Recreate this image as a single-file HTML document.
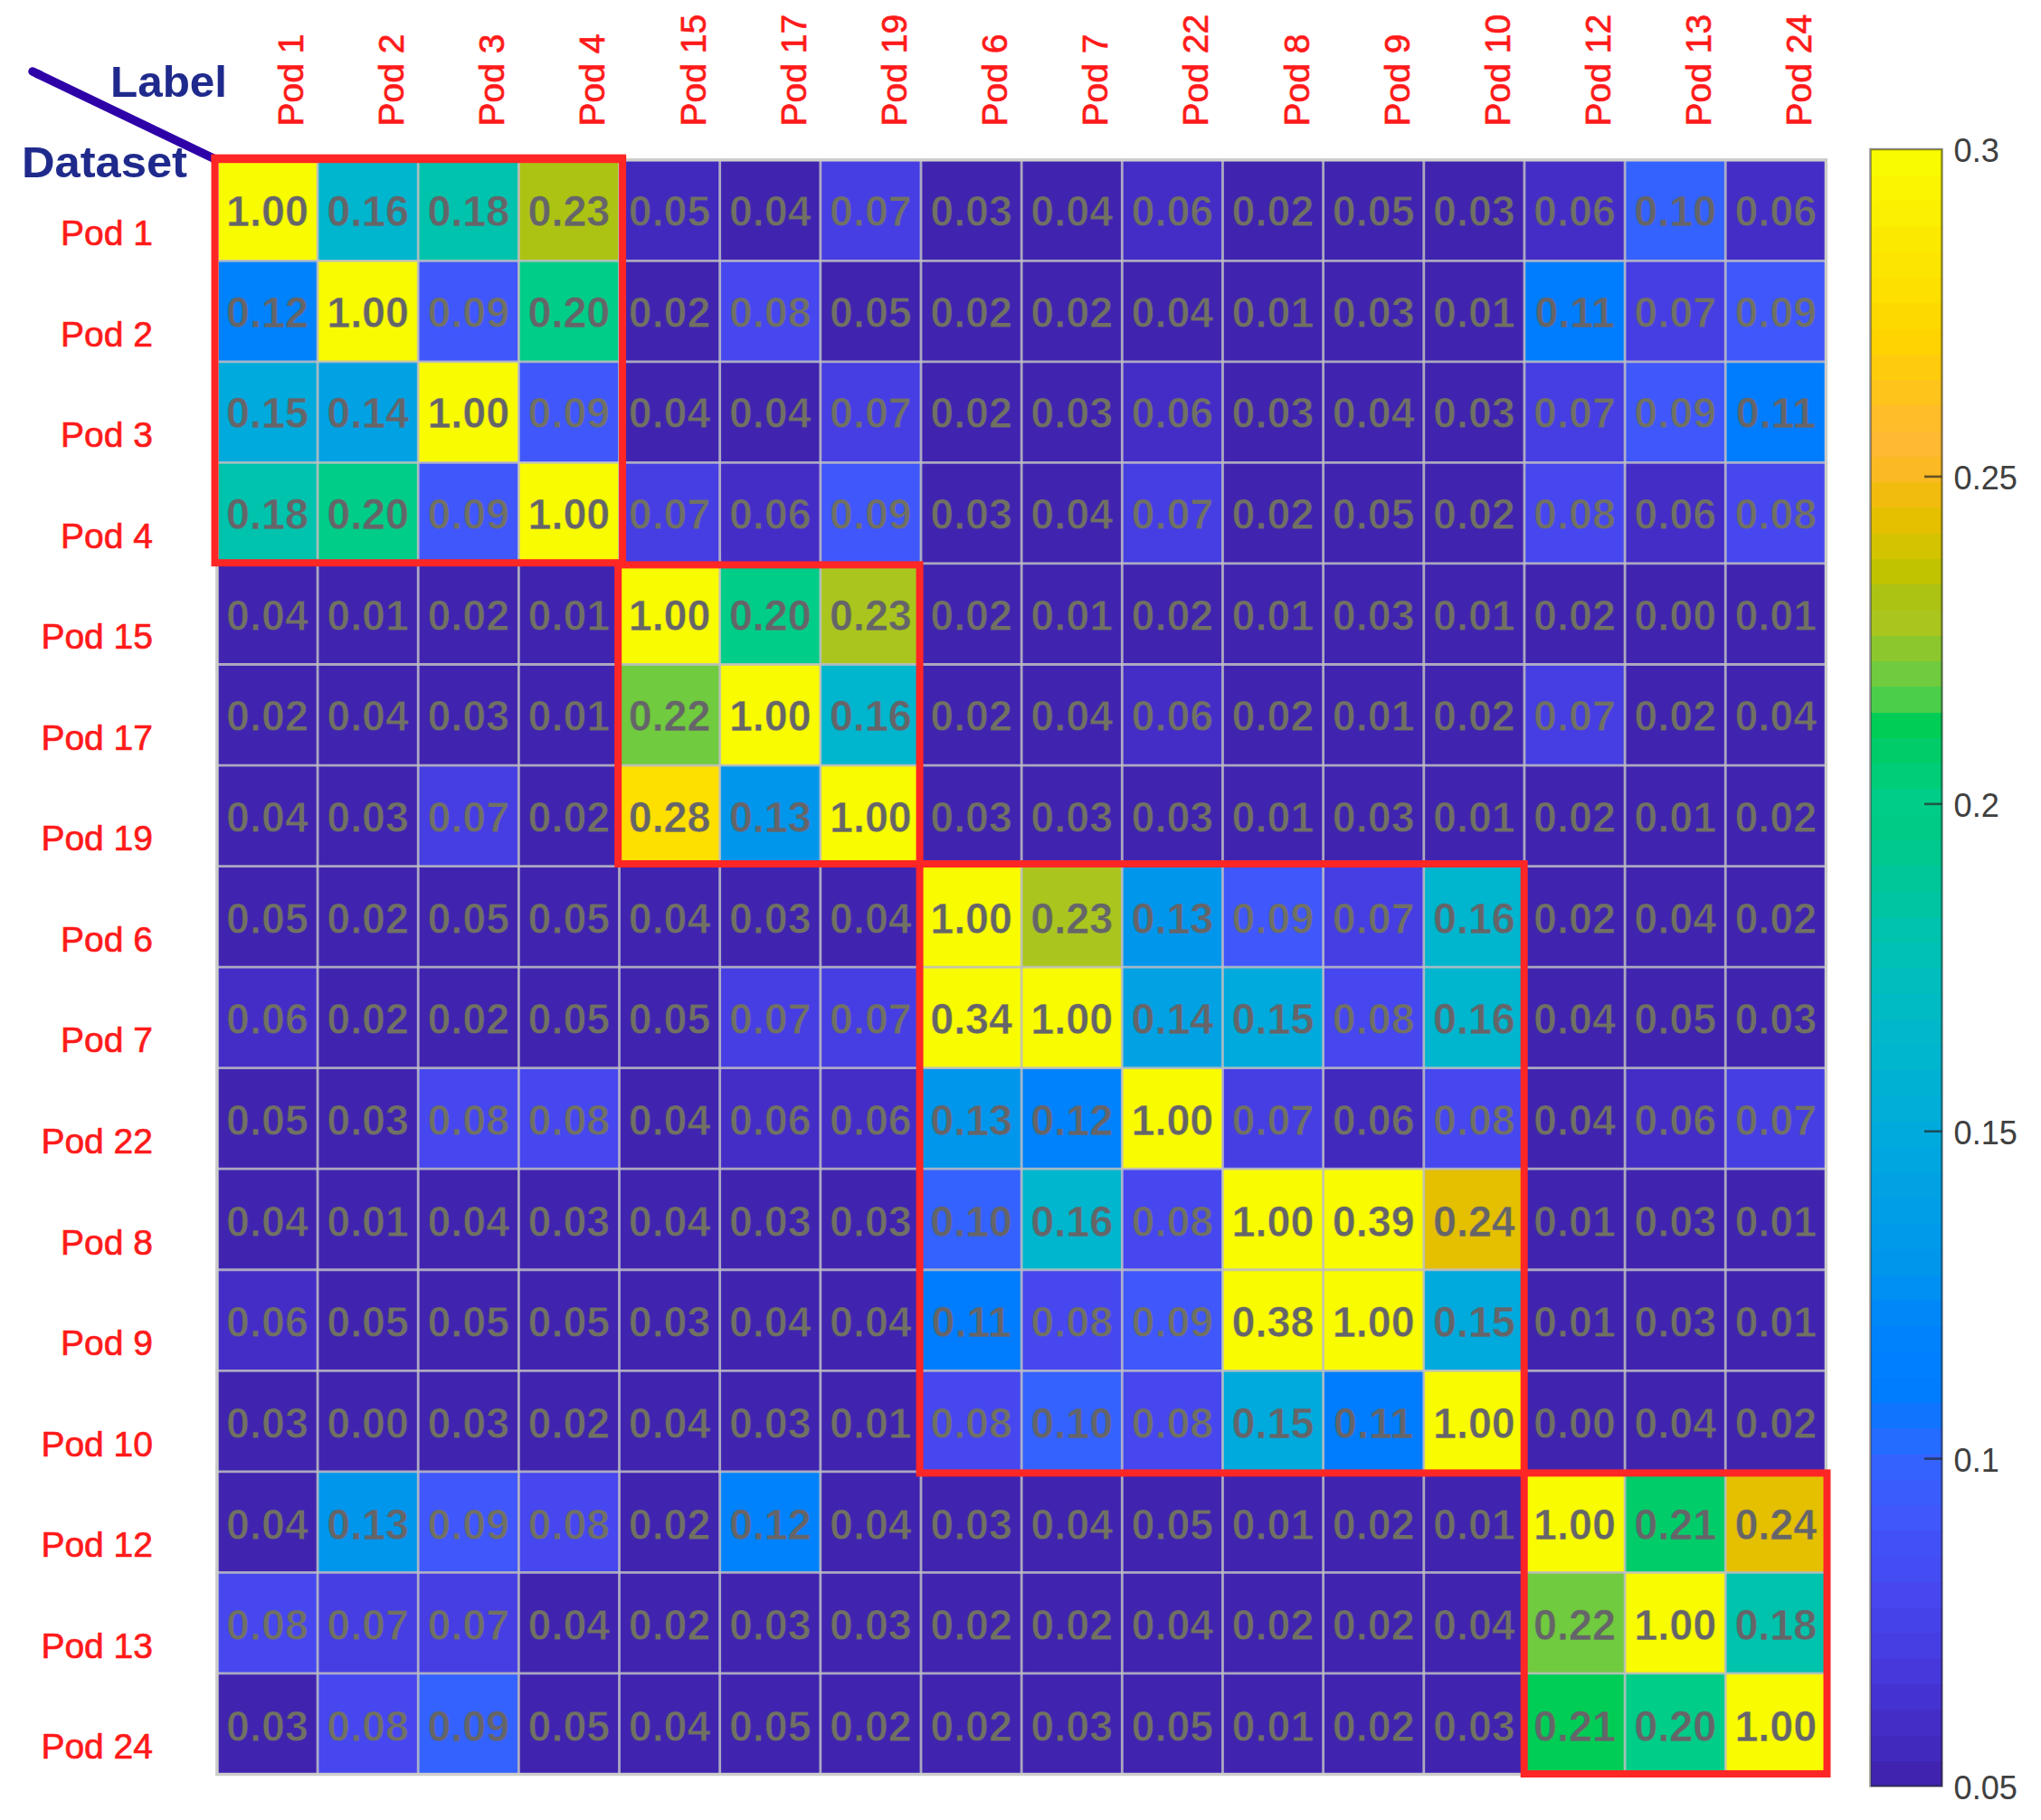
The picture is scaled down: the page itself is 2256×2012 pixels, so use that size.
<!DOCTYPE html>
<html><head><meta charset="utf-8"><title>Heatmap</title>
<style>html,body{margin:0;padding:0;background:#fff;}body{width:2256px;height:2012px;overflow:hidden;}svg{display:block;}</style>
</head><body>
<svg width="2256" height="2012" viewBox="0 0 2256 2012">
<g shape-rendering="crispEdges">
<rect x="239.90" y="176.75" width="111.66" height="112.05" fill="#f9fb00"/>
<rect x="351.06" y="176.75" width="111.66" height="112.05" fill="#00b5ce"/>
<rect x="462.21" y="176.75" width="111.66" height="112.05" fill="#00c3ad"/>
<rect x="573.37" y="176.75" width="111.66" height="112.05" fill="#adc314"/>
<rect x="684.52" y="176.75" width="111.66" height="112.05" fill="#4229be"/>
<rect x="795.68" y="176.75" width="111.66" height="112.05" fill="#4024af"/>
<rect x="906.84" y="176.75" width="111.66" height="112.05" fill="#463ee3"/>
<rect x="1017.99" y="176.75" width="111.66" height="112.05" fill="#4024af"/>
<rect x="1129.15" y="176.75" width="111.66" height="112.05" fill="#4024af"/>
<rect x="1240.31" y="176.75" width="111.66" height="112.05" fill="#442dc7"/>
<rect x="1351.46" y="176.75" width="111.66" height="112.05" fill="#4024af"/>
<rect x="1462.62" y="176.75" width="111.66" height="112.05" fill="#4024af"/>
<rect x="1573.78" y="176.75" width="111.66" height="112.05" fill="#4024af"/>
<rect x="1684.93" y="176.75" width="111.66" height="112.05" fill="#442dc7"/>
<rect x="1796.09" y="176.75" width="111.66" height="112.05" fill="#3462fe"/>
<rect x="1907.24" y="176.75" width="111.66" height="112.05" fill="#442dc7"/>
<rect x="239.90" y="288.30" width="111.66" height="112.05" fill="#0082fc"/>
<rect x="351.06" y="288.30" width="111.66" height="112.05" fill="#f9fb00"/>
<rect x="462.21" y="288.30" width="111.66" height="112.05" fill="#3f57fb"/>
<rect x="573.37" y="288.30" width="111.66" height="112.05" fill="#00cd87"/>
<rect x="684.52" y="288.30" width="111.66" height="112.05" fill="#4024af"/>
<rect x="795.68" y="288.30" width="111.66" height="112.05" fill="#4647ef"/>
<rect x="906.84" y="288.30" width="111.66" height="112.05" fill="#4024af"/>
<rect x="1017.99" y="288.30" width="111.66" height="112.05" fill="#4024af"/>
<rect x="1129.15" y="288.30" width="111.66" height="112.05" fill="#4024af"/>
<rect x="1240.31" y="288.30" width="111.66" height="112.05" fill="#4024af"/>
<rect x="1351.46" y="288.30" width="111.66" height="112.05" fill="#4024af"/>
<rect x="1462.62" y="288.30" width="111.66" height="112.05" fill="#4024af"/>
<rect x="1573.78" y="288.30" width="111.66" height="112.05" fill="#4024af"/>
<rect x="1684.93" y="288.30" width="111.66" height="112.05" fill="#007dff"/>
<rect x="1796.09" y="288.30" width="111.66" height="112.05" fill="#463ee3"/>
<rect x="1907.24" y="288.30" width="111.66" height="112.05" fill="#3f57fb"/>
<rect x="239.90" y="399.84" width="111.66" height="112.05" fill="#00aadc"/>
<rect x="351.06" y="399.84" width="111.66" height="112.05" fill="#00a2e4"/>
<rect x="462.21" y="399.84" width="111.66" height="112.05" fill="#f9fb00"/>
<rect x="573.37" y="399.84" width="111.66" height="112.05" fill="#3f57fb"/>
<rect x="684.52" y="399.84" width="111.66" height="112.05" fill="#4024af"/>
<rect x="795.68" y="399.84" width="111.66" height="112.05" fill="#4024af"/>
<rect x="906.84" y="399.84" width="111.66" height="112.05" fill="#463ee3"/>
<rect x="1017.99" y="399.84" width="111.66" height="112.05" fill="#4024af"/>
<rect x="1129.15" y="399.84" width="111.66" height="112.05" fill="#4024af"/>
<rect x="1240.31" y="399.84" width="111.66" height="112.05" fill="#442dc7"/>
<rect x="1351.46" y="399.84" width="111.66" height="112.05" fill="#4024af"/>
<rect x="1462.62" y="399.84" width="111.66" height="112.05" fill="#4024af"/>
<rect x="1573.78" y="399.84" width="111.66" height="112.05" fill="#4024af"/>
<rect x="1684.93" y="399.84" width="111.66" height="112.05" fill="#463ee3"/>
<rect x="1796.09" y="399.84" width="111.66" height="112.05" fill="#3f57fb"/>
<rect x="1907.24" y="399.84" width="111.66" height="112.05" fill="#007dff"/>
<rect x="239.90" y="511.39" width="111.66" height="112.05" fill="#00c3ad"/>
<rect x="351.06" y="511.39" width="111.66" height="112.05" fill="#00cd87"/>
<rect x="462.21" y="511.39" width="111.66" height="112.05" fill="#3f57fb"/>
<rect x="573.37" y="511.39" width="111.66" height="112.05" fill="#f9fb00"/>
<rect x="684.52" y="511.39" width="111.66" height="112.05" fill="#463ee3"/>
<rect x="795.68" y="511.39" width="111.66" height="112.05" fill="#442dc7"/>
<rect x="906.84" y="511.39" width="111.66" height="112.05" fill="#3f57fb"/>
<rect x="1017.99" y="511.39" width="111.66" height="112.05" fill="#4024af"/>
<rect x="1129.15" y="511.39" width="111.66" height="112.05" fill="#4024af"/>
<rect x="1240.31" y="511.39" width="111.66" height="112.05" fill="#463ee3"/>
<rect x="1351.46" y="511.39" width="111.66" height="112.05" fill="#4024af"/>
<rect x="1462.62" y="511.39" width="111.66" height="112.05" fill="#4024af"/>
<rect x="1573.78" y="511.39" width="111.66" height="112.05" fill="#4024af"/>
<rect x="1684.93" y="511.39" width="111.66" height="112.05" fill="#4647ef"/>
<rect x="1796.09" y="511.39" width="111.66" height="112.05" fill="#442dc7"/>
<rect x="1907.24" y="511.39" width="111.66" height="112.05" fill="#4647ef"/>
<rect x="239.90" y="622.94" width="111.66" height="112.05" fill="#4024af"/>
<rect x="351.06" y="622.94" width="111.66" height="112.05" fill="#4024af"/>
<rect x="462.21" y="622.94" width="111.66" height="112.05" fill="#4024af"/>
<rect x="573.37" y="622.94" width="111.66" height="112.05" fill="#4024af"/>
<rect x="684.52" y="622.94" width="111.66" height="112.05" fill="#f9fb00"/>
<rect x="795.68" y="622.94" width="111.66" height="112.05" fill="#00cd87"/>
<rect x="906.84" y="622.94" width="111.66" height="112.05" fill="#aac61e"/>
<rect x="1017.99" y="622.94" width="111.66" height="112.05" fill="#4024af"/>
<rect x="1129.15" y="622.94" width="111.66" height="112.05" fill="#4024af"/>
<rect x="1240.31" y="622.94" width="111.66" height="112.05" fill="#4024af"/>
<rect x="1351.46" y="622.94" width="111.66" height="112.05" fill="#4024af"/>
<rect x="1462.62" y="622.94" width="111.66" height="112.05" fill="#4024af"/>
<rect x="1573.78" y="622.94" width="111.66" height="112.05" fill="#4024af"/>
<rect x="1684.93" y="622.94" width="111.66" height="112.05" fill="#4024af"/>
<rect x="1796.09" y="622.94" width="111.66" height="112.05" fill="#4024af"/>
<rect x="1907.24" y="622.94" width="111.66" height="112.05" fill="#4024af"/>
<rect x="239.90" y="734.48" width="111.66" height="112.05" fill="#4024af"/>
<rect x="351.06" y="734.48" width="111.66" height="112.05" fill="#4024af"/>
<rect x="462.21" y="734.48" width="111.66" height="112.05" fill="#4024af"/>
<rect x="573.37" y="734.48" width="111.66" height="112.05" fill="#4024af"/>
<rect x="684.52" y="734.48" width="111.66" height="112.05" fill="#70cb3e"/>
<rect x="795.68" y="734.48" width="111.66" height="112.05" fill="#f9fb00"/>
<rect x="906.84" y="734.48" width="111.66" height="112.05" fill="#00b5ce"/>
<rect x="1017.99" y="734.48" width="111.66" height="112.05" fill="#4024af"/>
<rect x="1129.15" y="734.48" width="111.66" height="112.05" fill="#4024af"/>
<rect x="1240.31" y="734.48" width="111.66" height="112.05" fill="#442dc7"/>
<rect x="1351.46" y="734.48" width="111.66" height="112.05" fill="#4024af"/>
<rect x="1462.62" y="734.48" width="111.66" height="112.05" fill="#4024af"/>
<rect x="1573.78" y="734.48" width="111.66" height="112.05" fill="#4024af"/>
<rect x="1684.93" y="734.48" width="111.66" height="112.05" fill="#463ee3"/>
<rect x="1796.09" y="734.48" width="111.66" height="112.05" fill="#4024af"/>
<rect x="1907.24" y="734.48" width="111.66" height="112.05" fill="#4024af"/>
<rect x="239.90" y="846.03" width="111.66" height="112.05" fill="#4024af"/>
<rect x="351.06" y="846.03" width="111.66" height="112.05" fill="#4024af"/>
<rect x="462.21" y="846.03" width="111.66" height="112.05" fill="#463ee3"/>
<rect x="573.37" y="846.03" width="111.66" height="112.05" fill="#4024af"/>
<rect x="684.52" y="846.03" width="111.66" height="112.05" fill="#fddf00"/>
<rect x="795.68" y="846.03" width="111.66" height="112.05" fill="#0096ec"/>
<rect x="906.84" y="846.03" width="111.66" height="112.05" fill="#f9fb00"/>
<rect x="1017.99" y="846.03" width="111.66" height="112.05" fill="#4024af"/>
<rect x="1129.15" y="846.03" width="111.66" height="112.05" fill="#4024af"/>
<rect x="1240.31" y="846.03" width="111.66" height="112.05" fill="#4024af"/>
<rect x="1351.46" y="846.03" width="111.66" height="112.05" fill="#4024af"/>
<rect x="1462.62" y="846.03" width="111.66" height="112.05" fill="#4024af"/>
<rect x="1573.78" y="846.03" width="111.66" height="112.05" fill="#4024af"/>
<rect x="1684.93" y="846.03" width="111.66" height="112.05" fill="#4024af"/>
<rect x="1796.09" y="846.03" width="111.66" height="112.05" fill="#4024af"/>
<rect x="1907.24" y="846.03" width="111.66" height="112.05" fill="#4024af"/>
<rect x="239.90" y="957.58" width="111.66" height="112.05" fill="#4024af"/>
<rect x="351.06" y="957.58" width="111.66" height="112.05" fill="#4024af"/>
<rect x="462.21" y="957.58" width="111.66" height="112.05" fill="#4024af"/>
<rect x="573.37" y="957.58" width="111.66" height="112.05" fill="#4024af"/>
<rect x="684.52" y="957.58" width="111.66" height="112.05" fill="#4024af"/>
<rect x="795.68" y="957.58" width="111.66" height="112.05" fill="#4024af"/>
<rect x="906.84" y="957.58" width="111.66" height="112.05" fill="#4024af"/>
<rect x="1017.99" y="957.58" width="111.66" height="112.05" fill="#f9fb00"/>
<rect x="1129.15" y="957.58" width="111.66" height="112.05" fill="#aac61e"/>
<rect x="1240.31" y="957.58" width="111.66" height="112.05" fill="#0096ec"/>
<rect x="1351.46" y="957.58" width="111.66" height="112.05" fill="#3f57fb"/>
<rect x="1462.62" y="957.58" width="111.66" height="112.05" fill="#463ee3"/>
<rect x="1573.78" y="957.58" width="111.66" height="112.05" fill="#00b5ce"/>
<rect x="1684.93" y="957.58" width="111.66" height="112.05" fill="#4024af"/>
<rect x="1796.09" y="957.58" width="111.66" height="112.05" fill="#4024af"/>
<rect x="1907.24" y="957.58" width="111.66" height="112.05" fill="#4024af"/>
<rect x="239.90" y="1069.12" width="111.66" height="112.05" fill="#442dc7"/>
<rect x="351.06" y="1069.12" width="111.66" height="112.05" fill="#4024af"/>
<rect x="462.21" y="1069.12" width="111.66" height="112.05" fill="#4024af"/>
<rect x="573.37" y="1069.12" width="111.66" height="112.05" fill="#4024af"/>
<rect x="684.52" y="1069.12" width="111.66" height="112.05" fill="#4024af"/>
<rect x="795.68" y="1069.12" width="111.66" height="112.05" fill="#463ee3"/>
<rect x="906.84" y="1069.12" width="111.66" height="112.05" fill="#463ee3"/>
<rect x="1017.99" y="1069.12" width="111.66" height="112.05" fill="#f9fb00"/>
<rect x="1129.15" y="1069.12" width="111.66" height="112.05" fill="#f9fb00"/>
<rect x="1240.31" y="1069.12" width="111.66" height="112.05" fill="#00a2e4"/>
<rect x="1351.46" y="1069.12" width="111.66" height="112.05" fill="#00aadc"/>
<rect x="1462.62" y="1069.12" width="111.66" height="112.05" fill="#4647ef"/>
<rect x="1573.78" y="1069.12" width="111.66" height="112.05" fill="#00b5ce"/>
<rect x="1684.93" y="1069.12" width="111.66" height="112.05" fill="#4024af"/>
<rect x="1796.09" y="1069.12" width="111.66" height="112.05" fill="#4024af"/>
<rect x="1907.24" y="1069.12" width="111.66" height="112.05" fill="#4024af"/>
<rect x="239.90" y="1180.67" width="111.66" height="112.05" fill="#4024af"/>
<rect x="351.06" y="1180.67" width="111.66" height="112.05" fill="#4024af"/>
<rect x="462.21" y="1180.67" width="111.66" height="112.05" fill="#4647ef"/>
<rect x="573.37" y="1180.67" width="111.66" height="112.05" fill="#4647ef"/>
<rect x="684.52" y="1180.67" width="111.66" height="112.05" fill="#4024af"/>
<rect x="795.68" y="1180.67" width="111.66" height="112.05" fill="#442dc7"/>
<rect x="906.84" y="1180.67" width="111.66" height="112.05" fill="#442dc7"/>
<rect x="1017.99" y="1180.67" width="111.66" height="112.05" fill="#0096ec"/>
<rect x="1129.15" y="1180.67" width="111.66" height="112.05" fill="#0082fc"/>
<rect x="1240.31" y="1180.67" width="111.66" height="112.05" fill="#f9fb00"/>
<rect x="1351.46" y="1180.67" width="111.66" height="112.05" fill="#463ee3"/>
<rect x="1462.62" y="1180.67" width="111.66" height="112.05" fill="#4229be"/>
<rect x="1573.78" y="1180.67" width="111.66" height="112.05" fill="#4647ef"/>
<rect x="1684.93" y="1180.67" width="111.66" height="112.05" fill="#4024af"/>
<rect x="1796.09" y="1180.67" width="111.66" height="112.05" fill="#442dc7"/>
<rect x="1907.24" y="1180.67" width="111.66" height="112.05" fill="#463ee3"/>
<rect x="239.90" y="1292.22" width="111.66" height="112.05" fill="#4024af"/>
<rect x="351.06" y="1292.22" width="111.66" height="112.05" fill="#4024af"/>
<rect x="462.21" y="1292.22" width="111.66" height="112.05" fill="#4024af"/>
<rect x="573.37" y="1292.22" width="111.66" height="112.05" fill="#4024af"/>
<rect x="684.52" y="1292.22" width="111.66" height="112.05" fill="#4024af"/>
<rect x="795.68" y="1292.22" width="111.66" height="112.05" fill="#4024af"/>
<rect x="906.84" y="1292.22" width="111.66" height="112.05" fill="#4024af"/>
<rect x="1017.99" y="1292.22" width="111.66" height="112.05" fill="#3462fe"/>
<rect x="1129.15" y="1292.22" width="111.66" height="112.05" fill="#00b5ce"/>
<rect x="1240.31" y="1292.22" width="111.66" height="112.05" fill="#4647ef"/>
<rect x="1351.46" y="1292.22" width="111.66" height="112.05" fill="#f9fb00"/>
<rect x="1462.62" y="1292.22" width="111.66" height="112.05" fill="#f9fb00"/>
<rect x="1573.78" y="1292.22" width="111.66" height="112.05" fill="#e4c000"/>
<rect x="1684.93" y="1292.22" width="111.66" height="112.05" fill="#4024af"/>
<rect x="1796.09" y="1292.22" width="111.66" height="112.05" fill="#4024af"/>
<rect x="1907.24" y="1292.22" width="111.66" height="112.05" fill="#4024af"/>
<rect x="239.90" y="1403.77" width="111.66" height="112.05" fill="#442dc7"/>
<rect x="351.06" y="1403.77" width="111.66" height="112.05" fill="#4024af"/>
<rect x="462.21" y="1403.77" width="111.66" height="112.05" fill="#4024af"/>
<rect x="573.37" y="1403.77" width="111.66" height="112.05" fill="#4024af"/>
<rect x="684.52" y="1403.77" width="111.66" height="112.05" fill="#4024af"/>
<rect x="795.68" y="1403.77" width="111.66" height="112.05" fill="#4024af"/>
<rect x="906.84" y="1403.77" width="111.66" height="112.05" fill="#4024af"/>
<rect x="1017.99" y="1403.77" width="111.66" height="112.05" fill="#007dff"/>
<rect x="1129.15" y="1403.77" width="111.66" height="112.05" fill="#4647ef"/>
<rect x="1240.31" y="1403.77" width="111.66" height="112.05" fill="#3f57fb"/>
<rect x="1351.46" y="1403.77" width="111.66" height="112.05" fill="#f9fb00"/>
<rect x="1462.62" y="1403.77" width="111.66" height="112.05" fill="#f9fb00"/>
<rect x="1573.78" y="1403.77" width="111.66" height="112.05" fill="#00aadc"/>
<rect x="1684.93" y="1403.77" width="111.66" height="112.05" fill="#4024af"/>
<rect x="1796.09" y="1403.77" width="111.66" height="112.05" fill="#4024af"/>
<rect x="1907.24" y="1403.77" width="111.66" height="112.05" fill="#4024af"/>
<rect x="239.90" y="1515.31" width="111.66" height="112.05" fill="#4024af"/>
<rect x="351.06" y="1515.31" width="111.66" height="112.05" fill="#4024af"/>
<rect x="462.21" y="1515.31" width="111.66" height="112.05" fill="#4024af"/>
<rect x="573.37" y="1515.31" width="111.66" height="112.05" fill="#4024af"/>
<rect x="684.52" y="1515.31" width="111.66" height="112.05" fill="#4024af"/>
<rect x="795.68" y="1515.31" width="111.66" height="112.05" fill="#4024af"/>
<rect x="906.84" y="1515.31" width="111.66" height="112.05" fill="#4024af"/>
<rect x="1017.99" y="1515.31" width="111.66" height="112.05" fill="#4647ef"/>
<rect x="1129.15" y="1515.31" width="111.66" height="112.05" fill="#3462fe"/>
<rect x="1240.31" y="1515.31" width="111.66" height="112.05" fill="#4647ef"/>
<rect x="1351.46" y="1515.31" width="111.66" height="112.05" fill="#00aadc"/>
<rect x="1462.62" y="1515.31" width="111.66" height="112.05" fill="#007dff"/>
<rect x="1573.78" y="1515.31" width="111.66" height="112.05" fill="#f9fb00"/>
<rect x="1684.93" y="1515.31" width="111.66" height="112.05" fill="#4024af"/>
<rect x="1796.09" y="1515.31" width="111.66" height="112.05" fill="#4024af"/>
<rect x="1907.24" y="1515.31" width="111.66" height="112.05" fill="#4024af"/>
<rect x="239.90" y="1626.86" width="111.66" height="112.05" fill="#4024af"/>
<rect x="351.06" y="1626.86" width="111.66" height="112.05" fill="#0096ec"/>
<rect x="462.21" y="1626.86" width="111.66" height="112.05" fill="#3f57fb"/>
<rect x="573.37" y="1626.86" width="111.66" height="112.05" fill="#4647ef"/>
<rect x="684.52" y="1626.86" width="111.66" height="112.05" fill="#4024af"/>
<rect x="795.68" y="1626.86" width="111.66" height="112.05" fill="#0082fc"/>
<rect x="906.84" y="1626.86" width="111.66" height="112.05" fill="#4024af"/>
<rect x="1017.99" y="1626.86" width="111.66" height="112.05" fill="#4024af"/>
<rect x="1129.15" y="1626.86" width="111.66" height="112.05" fill="#4024af"/>
<rect x="1240.31" y="1626.86" width="111.66" height="112.05" fill="#4024af"/>
<rect x="1351.46" y="1626.86" width="111.66" height="112.05" fill="#4024af"/>
<rect x="1462.62" y="1626.86" width="111.66" height="112.05" fill="#4024af"/>
<rect x="1573.78" y="1626.86" width="111.66" height="112.05" fill="#4024af"/>
<rect x="1684.93" y="1626.86" width="111.66" height="112.05" fill="#f9fb00"/>
<rect x="1796.09" y="1626.86" width="111.66" height="112.05" fill="#00cd69"/>
<rect x="1907.24" y="1626.86" width="111.66" height="112.05" fill="#e4c000"/>
<rect x="239.90" y="1738.41" width="111.66" height="112.05" fill="#4647ef"/>
<rect x="351.06" y="1738.41" width="111.66" height="112.05" fill="#463ee3"/>
<rect x="462.21" y="1738.41" width="111.66" height="112.05" fill="#463ee3"/>
<rect x="573.37" y="1738.41" width="111.66" height="112.05" fill="#4024af"/>
<rect x="684.52" y="1738.41" width="111.66" height="112.05" fill="#4024af"/>
<rect x="795.68" y="1738.41" width="111.66" height="112.05" fill="#4024af"/>
<rect x="906.84" y="1738.41" width="111.66" height="112.05" fill="#4024af"/>
<rect x="1017.99" y="1738.41" width="111.66" height="112.05" fill="#4024af"/>
<rect x="1129.15" y="1738.41" width="111.66" height="112.05" fill="#4024af"/>
<rect x="1240.31" y="1738.41" width="111.66" height="112.05" fill="#4024af"/>
<rect x="1351.46" y="1738.41" width="111.66" height="112.05" fill="#4024af"/>
<rect x="1462.62" y="1738.41" width="111.66" height="112.05" fill="#4024af"/>
<rect x="1573.78" y="1738.41" width="111.66" height="112.05" fill="#4024af"/>
<rect x="1684.93" y="1738.41" width="111.66" height="112.05" fill="#70cb3e"/>
<rect x="1796.09" y="1738.41" width="111.66" height="112.05" fill="#f9fb00"/>
<rect x="1907.24" y="1738.41" width="111.66" height="112.05" fill="#00c3ad"/>
<rect x="239.90" y="1849.95" width="111.66" height="112.05" fill="#4024af"/>
<rect x="351.06" y="1849.95" width="111.66" height="112.05" fill="#4647ef"/>
<rect x="462.21" y="1849.95" width="111.66" height="112.05" fill="#3462fe"/>
<rect x="573.37" y="1849.95" width="111.66" height="112.05" fill="#4024af"/>
<rect x="684.52" y="1849.95" width="111.66" height="112.05" fill="#4024af"/>
<rect x="795.68" y="1849.95" width="111.66" height="112.05" fill="#4024af"/>
<rect x="906.84" y="1849.95" width="111.66" height="112.05" fill="#4024af"/>
<rect x="1017.99" y="1849.95" width="111.66" height="112.05" fill="#4024af"/>
<rect x="1129.15" y="1849.95" width="111.66" height="112.05" fill="#4024af"/>
<rect x="1240.31" y="1849.95" width="111.66" height="112.05" fill="#4024af"/>
<rect x="1351.46" y="1849.95" width="111.66" height="112.05" fill="#4024af"/>
<rect x="1462.62" y="1849.95" width="111.66" height="112.05" fill="#4024af"/>
<rect x="1573.78" y="1849.95" width="111.66" height="112.05" fill="#4024af"/>
<rect x="1684.93" y="1849.95" width="111.66" height="112.05" fill="#00cd55"/>
<rect x="1796.09" y="1849.95" width="111.66" height="112.05" fill="#00cd87"/>
<rect x="1907.24" y="1849.95" width="111.66" height="112.05" fill="#f9fb00"/>
</g>
<g stroke="#bebec3" stroke-opacity="0.85" stroke-width="2.8">
<line x1="239.90" y1="175.25" x2="239.90" y2="1963.00"/>
<line x1="238.40" y1="176.75" x2="2019.90" y2="176.75"/>
<line x1="351.06" y1="175.25" x2="351.06" y2="1963.00"/>
<line x1="238.40" y1="288.30" x2="2019.90" y2="288.30"/>
<line x1="462.21" y1="175.25" x2="462.21" y2="1963.00"/>
<line x1="238.40" y1="399.84" x2="2019.90" y2="399.84"/>
<line x1="573.37" y1="175.25" x2="573.37" y2="1963.00"/>
<line x1="238.40" y1="511.39" x2="2019.90" y2="511.39"/>
<line x1="684.52" y1="175.25" x2="684.52" y2="1963.00"/>
<line x1="238.40" y1="622.94" x2="2019.90" y2="622.94"/>
<line x1="795.68" y1="175.25" x2="795.68" y2="1963.00"/>
<line x1="238.40" y1="734.48" x2="2019.90" y2="734.48"/>
<line x1="906.84" y1="175.25" x2="906.84" y2="1963.00"/>
<line x1="238.40" y1="846.03" x2="2019.90" y2="846.03"/>
<line x1="1017.99" y1="175.25" x2="1017.99" y2="1963.00"/>
<line x1="238.40" y1="957.58" x2="2019.90" y2="957.58"/>
<line x1="1129.15" y1="175.25" x2="1129.15" y2="1963.00"/>
<line x1="238.40" y1="1069.12" x2="2019.90" y2="1069.12"/>
<line x1="1240.31" y1="175.25" x2="1240.31" y2="1963.00"/>
<line x1="238.40" y1="1180.67" x2="2019.90" y2="1180.67"/>
<line x1="1351.46" y1="175.25" x2="1351.46" y2="1963.00"/>
<line x1="238.40" y1="1292.22" x2="2019.90" y2="1292.22"/>
<line x1="1462.62" y1="175.25" x2="1462.62" y2="1963.00"/>
<line x1="238.40" y1="1403.77" x2="2019.90" y2="1403.77"/>
<line x1="1573.78" y1="175.25" x2="1573.78" y2="1963.00"/>
<line x1="238.40" y1="1515.31" x2="2019.90" y2="1515.31"/>
<line x1="1684.93" y1="175.25" x2="1684.93" y2="1963.00"/>
<line x1="238.40" y1="1626.86" x2="2019.90" y2="1626.86"/>
<line x1="1796.09" y1="175.25" x2="1796.09" y2="1963.00"/>
<line x1="238.40" y1="1738.41" x2="2019.90" y2="1738.41"/>
<line x1="1907.24" y1="175.25" x2="1907.24" y2="1963.00"/>
<line x1="238.40" y1="1849.95" x2="2019.90" y2="1849.95"/>
<line x1="2018.40" y1="175.25" x2="2018.40" y2="1963.00"/>
<line x1="238.40" y1="1961.50" x2="2019.90" y2="1961.50"/>
</g>
<rect x="239.90" y="176.75" width="1778.50" height="1784.75" fill="none" stroke="#cdcdca" stroke-width="3.4"/>
<g font-family="'Liberation Sans',sans-serif" font-weight="bold" font-size="48.5" fill="#6a6a6a" stroke-width="0.6" stroke-linejoin="round" text-anchor="middle">
<text transform="translate(295.5,249.9) scale(0.962,1)" fill="#656569" stroke="#f9fb00" stroke-width="0.5">1.00</text>
<text transform="translate(406.6,249.9) scale(0.962,1)" fill="#656569" stroke="#00b5ce" stroke-width="0.5">0.16</text>
<text transform="translate(517.8,249.9) scale(0.962,1)" fill="#656569" stroke="#00c3ad" stroke-width="0.5">0.18</text>
<text transform="translate(628.9,249.9) scale(0.962,1)" fill="#656569" stroke="#adc314" stroke-width="0.5">0.23</text>
<text transform="translate(740.1,249.9) scale(0.962,1)" fill="#717163" stroke="#4229be" stroke-width="0.9">0.05</text>
<text transform="translate(851.3,249.9) scale(0.962,1)" fill="#717163" stroke="#4024af" stroke-width="0.9">0.04</text>
<text transform="translate(962.4,249.9) scale(0.962,1)" fill="#717163" stroke="#463ee3" stroke-width="0.9">0.07</text>
<text transform="translate(1073.6,249.9) scale(0.962,1)" fill="#717163" stroke="#4024af" stroke-width="0.9">0.03</text>
<text transform="translate(1184.7,249.9) scale(0.962,1)" fill="#717163" stroke="#4024af" stroke-width="0.9">0.04</text>
<text transform="translate(1295.9,249.9) scale(0.962,1)" fill="#717163" stroke="#442dc7" stroke-width="0.9">0.06</text>
<text transform="translate(1407.0,249.9) scale(0.962,1)" fill="#717163" stroke="#4024af" stroke-width="0.9">0.02</text>
<text transform="translate(1518.2,249.9) scale(0.962,1)" fill="#717163" stroke="#4024af" stroke-width="0.9">0.05</text>
<text transform="translate(1629.4,249.9) scale(0.962,1)" fill="#717163" stroke="#4024af" stroke-width="0.9">0.03</text>
<text transform="translate(1740.5,249.9) scale(0.962,1)" fill="#717163" stroke="#442dc7" stroke-width="0.9">0.06</text>
<text transform="translate(1851.7,249.9) scale(0.962,1)" fill="#656569" stroke="#3462fe" stroke-width="0.5">0.10</text>
<text transform="translate(1962.8,249.9) scale(0.962,1)" fill="#717163" stroke="#442dc7" stroke-width="0.9">0.06</text>
<text transform="translate(295.5,361.6) scale(0.962,1)" fill="#656569" stroke="#0082fc" stroke-width="0.5">0.12</text>
<text transform="translate(406.6,361.6) scale(0.962,1)" fill="#656569" stroke="#f9fb00" stroke-width="0.5">1.00</text>
<text transform="translate(517.8,361.6) scale(0.962,1)" fill="#717163" stroke="#3f57fb" stroke-width="0.9">0.09</text>
<text transform="translate(628.9,361.6) scale(0.962,1)" fill="#656569" stroke="#00cd87" stroke-width="0.5">0.20</text>
<text transform="translate(740.1,361.6) scale(0.962,1)" fill="#717163" stroke="#4024af" stroke-width="0.9">0.02</text>
<text transform="translate(851.3,361.6) scale(0.962,1)" fill="#717163" stroke="#4647ef" stroke-width="0.9">0.08</text>
<text transform="translate(962.4,361.6) scale(0.962,1)" fill="#717163" stroke="#4024af" stroke-width="0.9">0.05</text>
<text transform="translate(1073.6,361.6) scale(0.962,1)" fill="#717163" stroke="#4024af" stroke-width="0.9">0.02</text>
<text transform="translate(1184.7,361.6) scale(0.962,1)" fill="#717163" stroke="#4024af" stroke-width="0.9">0.02</text>
<text transform="translate(1295.9,361.6) scale(0.962,1)" fill="#717163" stroke="#4024af" stroke-width="0.9">0.04</text>
<text transform="translate(1407.0,361.6) scale(0.962,1)" fill="#717163" stroke="#4024af" stroke-width="0.9">0.01</text>
<text transform="translate(1518.2,361.6) scale(0.962,1)" fill="#717163" stroke="#4024af" stroke-width="0.9">0.03</text>
<text transform="translate(1629.4,361.6) scale(0.962,1)" fill="#717163" stroke="#4024af" stroke-width="0.9">0.01</text>
<text transform="translate(1740.5,361.6) scale(0.962,1)" fill="#656569" stroke="#007dff" stroke-width="0.5">0.11</text>
<text transform="translate(1851.7,361.6) scale(0.962,1)" fill="#717163" stroke="#463ee3" stroke-width="0.9">0.07</text>
<text transform="translate(1962.8,361.6) scale(0.962,1)" fill="#717163" stroke="#3f57fb" stroke-width="0.9">0.09</text>
<text transform="translate(295.5,473.3) scale(0.962,1)" fill="#656569" stroke="#00aadc" stroke-width="0.5">0.15</text>
<text transform="translate(406.6,473.3) scale(0.962,1)" fill="#656569" stroke="#00a2e4" stroke-width="0.5">0.14</text>
<text transform="translate(517.8,473.3) scale(0.962,1)" fill="#656569" stroke="#f9fb00" stroke-width="0.5">1.00</text>
<text transform="translate(628.9,473.3) scale(0.962,1)" fill="#717163" stroke="#3f57fb" stroke-width="0.9">0.09</text>
<text transform="translate(740.1,473.3) scale(0.962,1)" fill="#717163" stroke="#4024af" stroke-width="0.9">0.04</text>
<text transform="translate(851.3,473.3) scale(0.962,1)" fill="#717163" stroke="#4024af" stroke-width="0.9">0.04</text>
<text transform="translate(962.4,473.3) scale(0.962,1)" fill="#717163" stroke="#463ee3" stroke-width="0.9">0.07</text>
<text transform="translate(1073.6,473.3) scale(0.962,1)" fill="#717163" stroke="#4024af" stroke-width="0.9">0.02</text>
<text transform="translate(1184.7,473.3) scale(0.962,1)" fill="#717163" stroke="#4024af" stroke-width="0.9">0.03</text>
<text transform="translate(1295.9,473.3) scale(0.962,1)" fill="#717163" stroke="#442dc7" stroke-width="0.9">0.06</text>
<text transform="translate(1407.0,473.3) scale(0.962,1)" fill="#717163" stroke="#4024af" stroke-width="0.9">0.03</text>
<text transform="translate(1518.2,473.3) scale(0.962,1)" fill="#717163" stroke="#4024af" stroke-width="0.9">0.04</text>
<text transform="translate(1629.4,473.3) scale(0.962,1)" fill="#717163" stroke="#4024af" stroke-width="0.9">0.03</text>
<text transform="translate(1740.5,473.3) scale(0.962,1)" fill="#717163" stroke="#463ee3" stroke-width="0.9">0.07</text>
<text transform="translate(1851.7,473.3) scale(0.962,1)" fill="#717163" stroke="#3f57fb" stroke-width="0.9">0.09</text>
<text transform="translate(1962.8,473.3) scale(0.962,1)" fill="#656569" stroke="#007dff" stroke-width="0.5">0.11</text>
<text transform="translate(295.5,585.0) scale(0.962,1)" fill="#656569" stroke="#00c3ad" stroke-width="0.5">0.18</text>
<text transform="translate(406.6,585.0) scale(0.962,1)" fill="#656569" stroke="#00cd87" stroke-width="0.5">0.20</text>
<text transform="translate(517.8,585.0) scale(0.962,1)" fill="#717163" stroke="#3f57fb" stroke-width="0.9">0.09</text>
<text transform="translate(628.9,585.0) scale(0.962,1)" fill="#656569" stroke="#f9fb00" stroke-width="0.5">1.00</text>
<text transform="translate(740.1,585.0) scale(0.962,1)" fill="#717163" stroke="#463ee3" stroke-width="0.9">0.07</text>
<text transform="translate(851.3,585.0) scale(0.962,1)" fill="#717163" stroke="#442dc7" stroke-width="0.9">0.06</text>
<text transform="translate(962.4,585.0) scale(0.962,1)" fill="#717163" stroke="#3f57fb" stroke-width="0.9">0.09</text>
<text transform="translate(1073.6,585.0) scale(0.962,1)" fill="#717163" stroke="#4024af" stroke-width="0.9">0.03</text>
<text transform="translate(1184.7,585.0) scale(0.962,1)" fill="#717163" stroke="#4024af" stroke-width="0.9">0.04</text>
<text transform="translate(1295.9,585.0) scale(0.962,1)" fill="#717163" stroke="#463ee3" stroke-width="0.9">0.07</text>
<text transform="translate(1407.0,585.0) scale(0.962,1)" fill="#717163" stroke="#4024af" stroke-width="0.9">0.02</text>
<text transform="translate(1518.2,585.0) scale(0.962,1)" fill="#717163" stroke="#4024af" stroke-width="0.9">0.05</text>
<text transform="translate(1629.4,585.0) scale(0.962,1)" fill="#717163" stroke="#4024af" stroke-width="0.9">0.02</text>
<text transform="translate(1740.5,585.0) scale(0.962,1)" fill="#717163" stroke="#4647ef" stroke-width="0.9">0.08</text>
<text transform="translate(1851.7,585.0) scale(0.962,1)" fill="#717163" stroke="#442dc7" stroke-width="0.9">0.06</text>
<text transform="translate(1962.8,585.0) scale(0.962,1)" fill="#717163" stroke="#4647ef" stroke-width="0.9">0.08</text>
<text transform="translate(295.5,696.6) scale(0.962,1)" fill="#717163" stroke="#4024af" stroke-width="0.9">0.04</text>
<text transform="translate(406.6,696.6) scale(0.962,1)" fill="#717163" stroke="#4024af" stroke-width="0.9">0.01</text>
<text transform="translate(517.8,696.6) scale(0.962,1)" fill="#717163" stroke="#4024af" stroke-width="0.9">0.02</text>
<text transform="translate(628.9,696.6) scale(0.962,1)" fill="#717163" stroke="#4024af" stroke-width="0.9">0.01</text>
<text transform="translate(740.1,696.6) scale(0.962,1)" fill="#656569" stroke="#f9fb00" stroke-width="0.5">1.00</text>
<text transform="translate(851.3,696.6) scale(0.962,1)" fill="#656569" stroke="#00cd87" stroke-width="0.5">0.20</text>
<text transform="translate(962.4,696.6) scale(0.962,1)" fill="#656569" stroke="#aac61e" stroke-width="0.5">0.23</text>
<text transform="translate(1073.6,696.6) scale(0.962,1)" fill="#717163" stroke="#4024af" stroke-width="0.9">0.02</text>
<text transform="translate(1184.7,696.6) scale(0.962,1)" fill="#717163" stroke="#4024af" stroke-width="0.9">0.01</text>
<text transform="translate(1295.9,696.6) scale(0.962,1)" fill="#717163" stroke="#4024af" stroke-width="0.9">0.02</text>
<text transform="translate(1407.0,696.6) scale(0.962,1)" fill="#717163" stroke="#4024af" stroke-width="0.9">0.01</text>
<text transform="translate(1518.2,696.6) scale(0.962,1)" fill="#717163" stroke="#4024af" stroke-width="0.9">0.03</text>
<text transform="translate(1629.4,696.6) scale(0.962,1)" fill="#717163" stroke="#4024af" stroke-width="0.9">0.01</text>
<text transform="translate(1740.5,696.6) scale(0.962,1)" fill="#717163" stroke="#4024af" stroke-width="0.9">0.02</text>
<text transform="translate(1851.7,696.6) scale(0.962,1)" fill="#717163" stroke="#4024af" stroke-width="0.9">0.00</text>
<text transform="translate(1962.8,696.6) scale(0.962,1)" fill="#717163" stroke="#4024af" stroke-width="0.9">0.01</text>
<text transform="translate(295.5,808.3) scale(0.962,1)" fill="#717163" stroke="#4024af" stroke-width="0.9">0.02</text>
<text transform="translate(406.6,808.3) scale(0.962,1)" fill="#717163" stroke="#4024af" stroke-width="0.9">0.04</text>
<text transform="translate(517.8,808.3) scale(0.962,1)" fill="#717163" stroke="#4024af" stroke-width="0.9">0.03</text>
<text transform="translate(628.9,808.3) scale(0.962,1)" fill="#717163" stroke="#4024af" stroke-width="0.9">0.01</text>
<text transform="translate(740.1,808.3) scale(0.962,1)" fill="#656569" stroke="#70cb3e" stroke-width="0.5">0.22</text>
<text transform="translate(851.3,808.3) scale(0.962,1)" fill="#656569" stroke="#f9fb00" stroke-width="0.5">1.00</text>
<text transform="translate(962.4,808.3) scale(0.962,1)" fill="#656569" stroke="#00b5ce" stroke-width="0.5">0.16</text>
<text transform="translate(1073.6,808.3) scale(0.962,1)" fill="#717163" stroke="#4024af" stroke-width="0.9">0.02</text>
<text transform="translate(1184.7,808.3) scale(0.962,1)" fill="#717163" stroke="#4024af" stroke-width="0.9">0.04</text>
<text transform="translate(1295.9,808.3) scale(0.962,1)" fill="#717163" stroke="#442dc7" stroke-width="0.9">0.06</text>
<text transform="translate(1407.0,808.3) scale(0.962,1)" fill="#717163" stroke="#4024af" stroke-width="0.9">0.02</text>
<text transform="translate(1518.2,808.3) scale(0.962,1)" fill="#717163" stroke="#4024af" stroke-width="0.9">0.01</text>
<text transform="translate(1629.4,808.3) scale(0.962,1)" fill="#717163" stroke="#4024af" stroke-width="0.9">0.02</text>
<text transform="translate(1740.5,808.3) scale(0.962,1)" fill="#717163" stroke="#463ee3" stroke-width="0.9">0.07</text>
<text transform="translate(1851.7,808.3) scale(0.962,1)" fill="#717163" stroke="#4024af" stroke-width="0.9">0.02</text>
<text transform="translate(1962.8,808.3) scale(0.962,1)" fill="#717163" stroke="#4024af" stroke-width="0.9">0.04</text>
<text transform="translate(295.5,920.0) scale(0.962,1)" fill="#717163" stroke="#4024af" stroke-width="0.9">0.04</text>
<text transform="translate(406.6,920.0) scale(0.962,1)" fill="#717163" stroke="#4024af" stroke-width="0.9">0.03</text>
<text transform="translate(517.8,920.0) scale(0.962,1)" fill="#717163" stroke="#463ee3" stroke-width="0.9">0.07</text>
<text transform="translate(628.9,920.0) scale(0.962,1)" fill="#717163" stroke="#4024af" stroke-width="0.9">0.02</text>
<text transform="translate(740.1,920.0) scale(0.962,1)" fill="#656569" stroke="#fddf00" stroke-width="0.5">0.28</text>
<text transform="translate(851.3,920.0) scale(0.962,1)" fill="#656569" stroke="#0096ec" stroke-width="0.5">0.13</text>
<text transform="translate(962.4,920.0) scale(0.962,1)" fill="#656569" stroke="#f9fb00" stroke-width="0.5">1.00</text>
<text transform="translate(1073.6,920.0) scale(0.962,1)" fill="#717163" stroke="#4024af" stroke-width="0.9">0.03</text>
<text transform="translate(1184.7,920.0) scale(0.962,1)" fill="#717163" stroke="#4024af" stroke-width="0.9">0.03</text>
<text transform="translate(1295.9,920.0) scale(0.962,1)" fill="#717163" stroke="#4024af" stroke-width="0.9">0.03</text>
<text transform="translate(1407.0,920.0) scale(0.962,1)" fill="#717163" stroke="#4024af" stroke-width="0.9">0.01</text>
<text transform="translate(1518.2,920.0) scale(0.962,1)" fill="#717163" stroke="#4024af" stroke-width="0.9">0.03</text>
<text transform="translate(1629.4,920.0) scale(0.962,1)" fill="#717163" stroke="#4024af" stroke-width="0.9">0.01</text>
<text transform="translate(1740.5,920.0) scale(0.962,1)" fill="#717163" stroke="#4024af" stroke-width="0.9">0.02</text>
<text transform="translate(1851.7,920.0) scale(0.962,1)" fill="#717163" stroke="#4024af" stroke-width="0.9">0.01</text>
<text transform="translate(1962.8,920.0) scale(0.962,1)" fill="#717163" stroke="#4024af" stroke-width="0.9">0.02</text>
<text transform="translate(295.5,1031.7) scale(0.962,1)" fill="#717163" stroke="#4024af" stroke-width="0.9">0.05</text>
<text transform="translate(406.6,1031.7) scale(0.962,1)" fill="#717163" stroke="#4024af" stroke-width="0.9">0.02</text>
<text transform="translate(517.8,1031.7) scale(0.962,1)" fill="#717163" stroke="#4024af" stroke-width="0.9">0.05</text>
<text transform="translate(628.9,1031.7) scale(0.962,1)" fill="#717163" stroke="#4024af" stroke-width="0.9">0.05</text>
<text transform="translate(740.1,1031.7) scale(0.962,1)" fill="#717163" stroke="#4024af" stroke-width="0.9">0.04</text>
<text transform="translate(851.3,1031.7) scale(0.962,1)" fill="#717163" stroke="#4024af" stroke-width="0.9">0.03</text>
<text transform="translate(962.4,1031.7) scale(0.962,1)" fill="#717163" stroke="#4024af" stroke-width="0.9">0.04</text>
<text transform="translate(1073.6,1031.7) scale(0.962,1)" fill="#656569" stroke="#f9fb00" stroke-width="0.5">1.00</text>
<text transform="translate(1184.7,1031.7) scale(0.962,1)" fill="#656569" stroke="#aac61e" stroke-width="0.5">0.23</text>
<text transform="translate(1295.9,1031.7) scale(0.962,1)" fill="#656569" stroke="#0096ec" stroke-width="0.5">0.13</text>
<text transform="translate(1407.0,1031.7) scale(0.962,1)" fill="#717163" stroke="#3f57fb" stroke-width="0.9">0.09</text>
<text transform="translate(1518.2,1031.7) scale(0.962,1)" fill="#717163" stroke="#463ee3" stroke-width="0.9">0.07</text>
<text transform="translate(1629.4,1031.7) scale(0.962,1)" fill="#656569" stroke="#00b5ce" stroke-width="0.5">0.16</text>
<text transform="translate(1740.5,1031.7) scale(0.962,1)" fill="#717163" stroke="#4024af" stroke-width="0.9">0.02</text>
<text transform="translate(1851.7,1031.7) scale(0.962,1)" fill="#717163" stroke="#4024af" stroke-width="0.9">0.04</text>
<text transform="translate(1962.8,1031.7) scale(0.962,1)" fill="#717163" stroke="#4024af" stroke-width="0.9">0.02</text>
<text transform="translate(295.5,1143.3) scale(0.962,1)" fill="#717163" stroke="#442dc7" stroke-width="0.9">0.06</text>
<text transform="translate(406.6,1143.3) scale(0.962,1)" fill="#717163" stroke="#4024af" stroke-width="0.9">0.02</text>
<text transform="translate(517.8,1143.3) scale(0.962,1)" fill="#717163" stroke="#4024af" stroke-width="0.9">0.02</text>
<text transform="translate(628.9,1143.3) scale(0.962,1)" fill="#717163" stroke="#4024af" stroke-width="0.9">0.05</text>
<text transform="translate(740.1,1143.3) scale(0.962,1)" fill="#717163" stroke="#4024af" stroke-width="0.9">0.05</text>
<text transform="translate(851.3,1143.3) scale(0.962,1)" fill="#717163" stroke="#463ee3" stroke-width="0.9">0.07</text>
<text transform="translate(962.4,1143.3) scale(0.962,1)" fill="#717163" stroke="#463ee3" stroke-width="0.9">0.07</text>
<text transform="translate(1073.6,1143.3) scale(0.962,1)" fill="#656569" stroke="#f9fb00" stroke-width="0.5">0.34</text>
<text transform="translate(1184.7,1143.3) scale(0.962,1)" fill="#656569" stroke="#f9fb00" stroke-width="0.5">1.00</text>
<text transform="translate(1295.9,1143.3) scale(0.962,1)" fill="#656569" stroke="#00a2e4" stroke-width="0.5">0.14</text>
<text transform="translate(1407.0,1143.3) scale(0.962,1)" fill="#656569" stroke="#00aadc" stroke-width="0.5">0.15</text>
<text transform="translate(1518.2,1143.3) scale(0.962,1)" fill="#717163" stroke="#4647ef" stroke-width="0.9">0.08</text>
<text transform="translate(1629.4,1143.3) scale(0.962,1)" fill="#656569" stroke="#00b5ce" stroke-width="0.5">0.16</text>
<text transform="translate(1740.5,1143.3) scale(0.962,1)" fill="#717163" stroke="#4024af" stroke-width="0.9">0.04</text>
<text transform="translate(1851.7,1143.3) scale(0.962,1)" fill="#717163" stroke="#4024af" stroke-width="0.9">0.05</text>
<text transform="translate(1962.8,1143.3) scale(0.962,1)" fill="#717163" stroke="#4024af" stroke-width="0.9">0.03</text>
<text transform="translate(295.5,1255.0) scale(0.962,1)" fill="#717163" stroke="#4024af" stroke-width="0.9">0.05</text>
<text transform="translate(406.6,1255.0) scale(0.962,1)" fill="#717163" stroke="#4024af" stroke-width="0.9">0.03</text>
<text transform="translate(517.8,1255.0) scale(0.962,1)" fill="#717163" stroke="#4647ef" stroke-width="0.9">0.08</text>
<text transform="translate(628.9,1255.0) scale(0.962,1)" fill="#717163" stroke="#4647ef" stroke-width="0.9">0.08</text>
<text transform="translate(740.1,1255.0) scale(0.962,1)" fill="#717163" stroke="#4024af" stroke-width="0.9">0.04</text>
<text transform="translate(851.3,1255.0) scale(0.962,1)" fill="#717163" stroke="#442dc7" stroke-width="0.9">0.06</text>
<text transform="translate(962.4,1255.0) scale(0.962,1)" fill="#717163" stroke="#442dc7" stroke-width="0.9">0.06</text>
<text transform="translate(1073.6,1255.0) scale(0.962,1)" fill="#656569" stroke="#0096ec" stroke-width="0.5">0.13</text>
<text transform="translate(1184.7,1255.0) scale(0.962,1)" fill="#656569" stroke="#0082fc" stroke-width="0.5">0.12</text>
<text transform="translate(1295.9,1255.0) scale(0.962,1)" fill="#656569" stroke="#f9fb00" stroke-width="0.5">1.00</text>
<text transform="translate(1407.0,1255.0) scale(0.962,1)" fill="#717163" stroke="#463ee3" stroke-width="0.9">0.07</text>
<text transform="translate(1518.2,1255.0) scale(0.962,1)" fill="#717163" stroke="#4229be" stroke-width="0.9">0.06</text>
<text transform="translate(1629.4,1255.0) scale(0.962,1)" fill="#717163" stroke="#4647ef" stroke-width="0.9">0.08</text>
<text transform="translate(1740.5,1255.0) scale(0.962,1)" fill="#717163" stroke="#4024af" stroke-width="0.9">0.04</text>
<text transform="translate(1851.7,1255.0) scale(0.962,1)" fill="#717163" stroke="#442dc7" stroke-width="0.9">0.06</text>
<text transform="translate(1962.8,1255.0) scale(0.962,1)" fill="#717163" stroke="#463ee3" stroke-width="0.9">0.07</text>
<text transform="translate(295.5,1366.7) scale(0.962,1)" fill="#717163" stroke="#4024af" stroke-width="0.9">0.04</text>
<text transform="translate(406.6,1366.7) scale(0.962,1)" fill="#717163" stroke="#4024af" stroke-width="0.9">0.01</text>
<text transform="translate(517.8,1366.7) scale(0.962,1)" fill="#717163" stroke="#4024af" stroke-width="0.9">0.04</text>
<text transform="translate(628.9,1366.7) scale(0.962,1)" fill="#717163" stroke="#4024af" stroke-width="0.9">0.03</text>
<text transform="translate(740.1,1366.7) scale(0.962,1)" fill="#717163" stroke="#4024af" stroke-width="0.9">0.04</text>
<text transform="translate(851.3,1366.7) scale(0.962,1)" fill="#717163" stroke="#4024af" stroke-width="0.9">0.03</text>
<text transform="translate(962.4,1366.7) scale(0.962,1)" fill="#717163" stroke="#4024af" stroke-width="0.9">0.03</text>
<text transform="translate(1073.6,1366.7) scale(0.962,1)" fill="#656569" stroke="#3462fe" stroke-width="0.5">0.10</text>
<text transform="translate(1184.7,1366.7) scale(0.962,1)" fill="#656569" stroke="#00b5ce" stroke-width="0.5">0.16</text>
<text transform="translate(1295.9,1366.7) scale(0.962,1)" fill="#717163" stroke="#4647ef" stroke-width="0.9">0.08</text>
<text transform="translate(1407.0,1366.7) scale(0.962,1)" fill="#656569" stroke="#f9fb00" stroke-width="0.5">1.00</text>
<text transform="translate(1518.2,1366.7) scale(0.962,1)" fill="#656569" stroke="#f9fb00" stroke-width="0.5">0.39</text>
<text transform="translate(1629.4,1366.7) scale(0.962,1)" fill="#656569" stroke="#e4c000" stroke-width="0.5">0.24</text>
<text transform="translate(1740.5,1366.7) scale(0.962,1)" fill="#717163" stroke="#4024af" stroke-width="0.9">0.01</text>
<text transform="translate(1851.7,1366.7) scale(0.962,1)" fill="#717163" stroke="#4024af" stroke-width="0.9">0.03</text>
<text transform="translate(1962.8,1366.7) scale(0.962,1)" fill="#717163" stroke="#4024af" stroke-width="0.9">0.01</text>
<text transform="translate(295.5,1478.4) scale(0.962,1)" fill="#717163" stroke="#442dc7" stroke-width="0.9">0.06</text>
<text transform="translate(406.6,1478.4) scale(0.962,1)" fill="#717163" stroke="#4024af" stroke-width="0.9">0.05</text>
<text transform="translate(517.8,1478.4) scale(0.962,1)" fill="#717163" stroke="#4024af" stroke-width="0.9">0.05</text>
<text transform="translate(628.9,1478.4) scale(0.962,1)" fill="#717163" stroke="#4024af" stroke-width="0.9">0.05</text>
<text transform="translate(740.1,1478.4) scale(0.962,1)" fill="#717163" stroke="#4024af" stroke-width="0.9">0.03</text>
<text transform="translate(851.3,1478.4) scale(0.962,1)" fill="#717163" stroke="#4024af" stroke-width="0.9">0.04</text>
<text transform="translate(962.4,1478.4) scale(0.962,1)" fill="#717163" stroke="#4024af" stroke-width="0.9">0.04</text>
<text transform="translate(1073.6,1478.4) scale(0.962,1)" fill="#656569" stroke="#007dff" stroke-width="0.5">0.11</text>
<text transform="translate(1184.7,1478.4) scale(0.962,1)" fill="#717163" stroke="#4647ef" stroke-width="0.9">0.08</text>
<text transform="translate(1295.9,1478.4) scale(0.962,1)" fill="#717163" stroke="#3f57fb" stroke-width="0.9">0.09</text>
<text transform="translate(1407.0,1478.4) scale(0.962,1)" fill="#656569" stroke="#f9fb00" stroke-width="0.5">0.38</text>
<text transform="translate(1518.2,1478.4) scale(0.962,1)" fill="#656569" stroke="#f9fb00" stroke-width="0.5">1.00</text>
<text transform="translate(1629.4,1478.4) scale(0.962,1)" fill="#656569" stroke="#00aadc" stroke-width="0.5">0.15</text>
<text transform="translate(1740.5,1478.4) scale(0.962,1)" fill="#717163" stroke="#4024af" stroke-width="0.9">0.01</text>
<text transform="translate(1851.7,1478.4) scale(0.962,1)" fill="#717163" stroke="#4024af" stroke-width="0.9">0.03</text>
<text transform="translate(1962.8,1478.4) scale(0.962,1)" fill="#717163" stroke="#4024af" stroke-width="0.9">0.01</text>
<text transform="translate(295.5,1590.0) scale(0.962,1)" fill="#717163" stroke="#4024af" stroke-width="0.9">0.03</text>
<text transform="translate(406.6,1590.0) scale(0.962,1)" fill="#717163" stroke="#4024af" stroke-width="0.9">0.00</text>
<text transform="translate(517.8,1590.0) scale(0.962,1)" fill="#717163" stroke="#4024af" stroke-width="0.9">0.03</text>
<text transform="translate(628.9,1590.0) scale(0.962,1)" fill="#717163" stroke="#4024af" stroke-width="0.9">0.02</text>
<text transform="translate(740.1,1590.0) scale(0.962,1)" fill="#717163" stroke="#4024af" stroke-width="0.9">0.04</text>
<text transform="translate(851.3,1590.0) scale(0.962,1)" fill="#717163" stroke="#4024af" stroke-width="0.9">0.03</text>
<text transform="translate(962.4,1590.0) scale(0.962,1)" fill="#717163" stroke="#4024af" stroke-width="0.9">0.01</text>
<text transform="translate(1073.6,1590.0) scale(0.962,1)" fill="#717163" stroke="#4647ef" stroke-width="0.9">0.08</text>
<text transform="translate(1184.7,1590.0) scale(0.962,1)" fill="#656569" stroke="#3462fe" stroke-width="0.5">0.10</text>
<text transform="translate(1295.9,1590.0) scale(0.962,1)" fill="#717163" stroke="#4647ef" stroke-width="0.9">0.08</text>
<text transform="translate(1407.0,1590.0) scale(0.962,1)" fill="#656569" stroke="#00aadc" stroke-width="0.5">0.15</text>
<text transform="translate(1518.2,1590.0) scale(0.962,1)" fill="#656569" stroke="#007dff" stroke-width="0.5">0.11</text>
<text transform="translate(1629.4,1590.0) scale(0.962,1)" fill="#656569" stroke="#f9fb00" stroke-width="0.5">1.00</text>
<text transform="translate(1740.5,1590.0) scale(0.962,1)" fill="#717163" stroke="#4024af" stroke-width="0.9">0.00</text>
<text transform="translate(1851.7,1590.0) scale(0.962,1)" fill="#717163" stroke="#4024af" stroke-width="0.9">0.04</text>
<text transform="translate(1962.8,1590.0) scale(0.962,1)" fill="#717163" stroke="#4024af" stroke-width="0.9">0.02</text>
<text transform="translate(295.5,1701.7) scale(0.962,1)" fill="#717163" stroke="#4024af" stroke-width="0.9">0.04</text>
<text transform="translate(406.6,1701.7) scale(0.962,1)" fill="#656569" stroke="#0096ec" stroke-width="0.5">0.13</text>
<text transform="translate(517.8,1701.7) scale(0.962,1)" fill="#717163" stroke="#3f57fb" stroke-width="0.9">0.09</text>
<text transform="translate(628.9,1701.7) scale(0.962,1)" fill="#717163" stroke="#4647ef" stroke-width="0.9">0.08</text>
<text transform="translate(740.1,1701.7) scale(0.962,1)" fill="#717163" stroke="#4024af" stroke-width="0.9">0.02</text>
<text transform="translate(851.3,1701.7) scale(0.962,1)" fill="#656569" stroke="#0082fc" stroke-width="0.5">0.12</text>
<text transform="translate(962.4,1701.7) scale(0.962,1)" fill="#717163" stroke="#4024af" stroke-width="0.9">0.04</text>
<text transform="translate(1073.6,1701.7) scale(0.962,1)" fill="#717163" stroke="#4024af" stroke-width="0.9">0.03</text>
<text transform="translate(1184.7,1701.7) scale(0.962,1)" fill="#717163" stroke="#4024af" stroke-width="0.9">0.04</text>
<text transform="translate(1295.9,1701.7) scale(0.962,1)" fill="#717163" stroke="#4024af" stroke-width="0.9">0.05</text>
<text transform="translate(1407.0,1701.7) scale(0.962,1)" fill="#717163" stroke="#4024af" stroke-width="0.9">0.01</text>
<text transform="translate(1518.2,1701.7) scale(0.962,1)" fill="#717163" stroke="#4024af" stroke-width="0.9">0.02</text>
<text transform="translate(1629.4,1701.7) scale(0.962,1)" fill="#717163" stroke="#4024af" stroke-width="0.9">0.01</text>
<text transform="translate(1740.5,1701.7) scale(0.962,1)" fill="#656569" stroke="#f9fb00" stroke-width="0.5">1.00</text>
<text transform="translate(1851.7,1701.7) scale(0.962,1)" fill="#656569" stroke="#00cd69" stroke-width="0.5">0.21</text>
<text transform="translate(1962.8,1701.7) scale(0.962,1)" fill="#656569" stroke="#e4c000" stroke-width="0.5">0.24</text>
<text transform="translate(295.5,1813.4) scale(0.962,1)" fill="#717163" stroke="#4647ef" stroke-width="0.9">0.08</text>
<text transform="translate(406.6,1813.4) scale(0.962,1)" fill="#717163" stroke="#463ee3" stroke-width="0.9">0.07</text>
<text transform="translate(517.8,1813.4) scale(0.962,1)" fill="#717163" stroke="#463ee3" stroke-width="0.9">0.07</text>
<text transform="translate(628.9,1813.4) scale(0.962,1)" fill="#717163" stroke="#4024af" stroke-width="0.9">0.04</text>
<text transform="translate(740.1,1813.4) scale(0.962,1)" fill="#717163" stroke="#4024af" stroke-width="0.9">0.02</text>
<text transform="translate(851.3,1813.4) scale(0.962,1)" fill="#717163" stroke="#4024af" stroke-width="0.9">0.03</text>
<text transform="translate(962.4,1813.4) scale(0.962,1)" fill="#717163" stroke="#4024af" stroke-width="0.9">0.03</text>
<text transform="translate(1073.6,1813.4) scale(0.962,1)" fill="#717163" stroke="#4024af" stroke-width="0.9">0.02</text>
<text transform="translate(1184.7,1813.4) scale(0.962,1)" fill="#717163" stroke="#4024af" stroke-width="0.9">0.02</text>
<text transform="translate(1295.9,1813.4) scale(0.962,1)" fill="#717163" stroke="#4024af" stroke-width="0.9">0.04</text>
<text transform="translate(1407.0,1813.4) scale(0.962,1)" fill="#717163" stroke="#4024af" stroke-width="0.9">0.02</text>
<text transform="translate(1518.2,1813.4) scale(0.962,1)" fill="#717163" stroke="#4024af" stroke-width="0.9">0.02</text>
<text transform="translate(1629.4,1813.4) scale(0.962,1)" fill="#717163" stroke="#4024af" stroke-width="0.9">0.04</text>
<text transform="translate(1740.5,1813.4) scale(0.962,1)" fill="#656569" stroke="#70cb3e" stroke-width="0.5">0.22</text>
<text transform="translate(1851.7,1813.4) scale(0.962,1)" fill="#656569" stroke="#f9fb00" stroke-width="0.5">1.00</text>
<text transform="translate(1962.8,1813.4) scale(0.962,1)" fill="#656569" stroke="#00c3ad" stroke-width="0.5">0.18</text>
<text transform="translate(295.5,1925.1) scale(0.962,1)" fill="#717163" stroke="#4024af" stroke-width="0.9">0.03</text>
<text transform="translate(406.6,1925.1) scale(0.962,1)" fill="#717163" stroke="#4647ef" stroke-width="0.9">0.08</text>
<text transform="translate(517.8,1925.1) scale(0.962,1)" fill="#656569" stroke="#3462fe" stroke-width="0.5">0.09</text>
<text transform="translate(628.9,1925.1) scale(0.962,1)" fill="#717163" stroke="#4024af" stroke-width="0.9">0.05</text>
<text transform="translate(740.1,1925.1) scale(0.962,1)" fill="#717163" stroke="#4024af" stroke-width="0.9">0.04</text>
<text transform="translate(851.3,1925.1) scale(0.962,1)" fill="#717163" stroke="#4024af" stroke-width="0.9">0.05</text>
<text transform="translate(962.4,1925.1) scale(0.962,1)" fill="#717163" stroke="#4024af" stroke-width="0.9">0.02</text>
<text transform="translate(1073.6,1925.1) scale(0.962,1)" fill="#717163" stroke="#4024af" stroke-width="0.9">0.02</text>
<text transform="translate(1184.7,1925.1) scale(0.962,1)" fill="#717163" stroke="#4024af" stroke-width="0.9">0.03</text>
<text transform="translate(1295.9,1925.1) scale(0.962,1)" fill="#717163" stroke="#4024af" stroke-width="0.9">0.05</text>
<text transform="translate(1407.0,1925.1) scale(0.962,1)" fill="#717163" stroke="#4024af" stroke-width="0.9">0.01</text>
<text transform="translate(1518.2,1925.1) scale(0.962,1)" fill="#717163" stroke="#4024af" stroke-width="0.9">0.02</text>
<text transform="translate(1629.4,1925.1) scale(0.962,1)" fill="#717163" stroke="#4024af" stroke-width="0.9">0.03</text>
<text transform="translate(1740.5,1925.1) scale(0.962,1)" fill="#656569" stroke="#00cd55" stroke-width="0.5">0.21</text>
<text transform="translate(1851.7,1925.1) scale(0.962,1)" fill="#656569" stroke="#00cd87" stroke-width="0.5">0.20</text>
<text transform="translate(1962.8,1925.1) scale(0.962,1)" fill="#656569" stroke="#f9fb00" stroke-width="0.5">1.00</text>
</g>
<line x1="36" y1="79" x2="44" y2="82.84" stroke="#2e00a8" stroke-width="9.5" stroke-linecap="round"/><line x1="40" y1="80.92" x2="240" y2="176.92" stroke="#2e00a8" stroke-width="9.5"/>
<g fill="none" stroke="#ff2626" stroke-width="8">
<rect x="237.5" y="175.5" width="450.6" height="446.7"/>
<rect x="683.2" y="624.4" width="333.4" height="330.6"/>
<rect x="1016.6" y="955.0" width="668.1" height="673.4"/>
<rect x="1684.7" y="1628.4" width="334.8" height="332.6"/>
<rect x="233.5" y="170.6" width="458.6" height="9.6" fill="#ff2626" stroke="none"/>
</g>
<g font-family="'Liberation Sans',sans-serif" font-size="39" fill="#ff1a1a" stroke="#ff1a1a" stroke-width="0.7" text-anchor="end">
<text x="169" y="271.0">Pod 1</text>
<text x="169" y="382.6">Pod 2</text>
<text x="169" y="494.1">Pod 3</text>
<text x="169" y="605.7">Pod 4</text>
<text x="169" y="717.2">Pod 15</text>
<text x="169" y="828.8">Pod 17</text>
<text x="169" y="940.3">Pod 19</text>
<text x="169" y="1051.9">Pod 6</text>
<text x="169" y="1163.4">Pod 7</text>
<text x="169" y="1274.9">Pod 22</text>
<text x="169" y="1386.5">Pod 8</text>
<text x="169" y="1498.0">Pod 9</text>
<text x="169" y="1609.6">Pod 10</text>
<text x="169" y="1721.1">Pod 12</text>
<text x="169" y="1832.7">Pod 13</text>
<text x="169" y="1944.2">Pod 24</text>
</g>
<g font-family="'Liberation Sans',sans-serif" font-size="39" fill="#ff1a1a" stroke="#ff1a1a" stroke-width="0.7">
<text transform="translate(335.0,139.5) rotate(-90)">Pod 1</text>
<text transform="translate(446.1,139.5) rotate(-90)">Pod 2</text>
<text transform="translate(557.3,139.5) rotate(-90)">Pod 3</text>
<text transform="translate(668.4,139.5) rotate(-90)">Pod 4</text>
<text transform="translate(779.6,139.5) rotate(-90)">Pod 15</text>
<text transform="translate(890.8,139.5) rotate(-90)">Pod 17</text>
<text transform="translate(1001.9,139.5) rotate(-90)">Pod 19</text>
<text transform="translate(1113.1,139.5) rotate(-90)">Pod 6</text>
<text transform="translate(1224.2,139.5) rotate(-90)">Pod 7</text>
<text transform="translate(1335.4,139.5) rotate(-90)">Pod 22</text>
<text transform="translate(1446.5,139.5) rotate(-90)">Pod 8</text>
<text transform="translate(1557.7,139.5) rotate(-90)">Pod 9</text>
<text transform="translate(1668.9,139.5) rotate(-90)">Pod 10</text>
<text transform="translate(1780.0,139.5) rotate(-90)">Pod 12</text>
<text transform="translate(1891.2,139.5) rotate(-90)">Pod 13</text>
<text transform="translate(2002.3,139.5) rotate(-90)">Pod 24</text>
</g>
<g font-family="'Liberation Sans',sans-serif" font-weight="bold" fill="#1f2a8c">
<text x="122" y="107" font-size="49" textLength="129" lengthAdjust="spacingAndGlyphs">Label</text>
<text x="24" y="196" font-size="48" textLength="183" lengthAdjust="spacingAndGlyphs">Dataset</text>
</g>
<g shape-rendering="crispEdges">
<rect x="2067.5" y="1946.23" width="79.0" height="28.87" fill="#4024af"/>
<rect x="2067.5" y="1917.95" width="79.0" height="28.87" fill="#4229be"/>
<rect x="2067.5" y="1889.68" width="79.0" height="28.87" fill="#442dc7"/>
<rect x="2067.5" y="1861.41" width="79.0" height="28.87" fill="#4533d1"/>
<rect x="2067.5" y="1833.13" width="79.0" height="28.87" fill="#4638db"/>
<rect x="2067.5" y="1804.86" width="79.0" height="28.87" fill="#463ee3"/>
<rect x="2067.5" y="1776.59" width="79.0" height="28.87" fill="#4642e9"/>
<rect x="2067.5" y="1748.31" width="79.0" height="28.87" fill="#4647ef"/>
<rect x="2067.5" y="1720.04" width="79.0" height="28.87" fill="#444cf3"/>
<rect x="2067.5" y="1691.77" width="79.0" height="28.87" fill="#4251f7"/>
<rect x="2067.5" y="1663.49" width="79.0" height="28.87" fill="#3f57fb"/>
<rect x="2067.5" y="1635.22" width="79.0" height="28.87" fill="#3a5cfc"/>
<rect x="2067.5" y="1606.95" width="79.0" height="28.87" fill="#3462fe"/>
<rect x="2067.5" y="1578.67" width="79.0" height="28.87" fill="#246bff"/>
<rect x="2067.5" y="1550.40" width="79.0" height="28.87" fill="#1174ff"/>
<rect x="2067.5" y="1522.12" width="79.0" height="28.87" fill="#007dff"/>
<rect x="2067.5" y="1493.85" width="79.0" height="28.87" fill="#0080fe"/>
<rect x="2067.5" y="1465.58" width="79.0" height="28.87" fill="#0082fc"/>
<rect x="2067.5" y="1437.30" width="79.0" height="28.87" fill="#0087f8"/>
<rect x="2067.5" y="1409.03" width="79.0" height="28.87" fill="#008ff2"/>
<rect x="2067.5" y="1380.76" width="79.0" height="28.87" fill="#0096ec"/>
<rect x="2067.5" y="1352.48" width="79.0" height="28.87" fill="#009aea"/>
<rect x="2067.5" y="1324.21" width="79.0" height="28.87" fill="#009ee7"/>
<rect x="2067.5" y="1295.94" width="79.0" height="28.87" fill="#00a2e4"/>
<rect x="2067.5" y="1267.66" width="79.0" height="28.87" fill="#00a6e0"/>
<rect x="2067.5" y="1239.39" width="79.0" height="28.87" fill="#00aadc"/>
<rect x="2067.5" y="1211.12" width="79.0" height="28.87" fill="#00aed8"/>
<rect x="2067.5" y="1182.84" width="79.0" height="28.87" fill="#00b1d3"/>
<rect x="2067.5" y="1154.57" width="79.0" height="28.87" fill="#00b5ce"/>
<rect x="2067.5" y="1126.30" width="79.0" height="28.87" fill="#00b8c9"/>
<rect x="2067.5" y="1098.02" width="79.0" height="28.87" fill="#00bbc4"/>
<rect x="2067.5" y="1069.75" width="79.0" height="28.87" fill="#00bebd"/>
<rect x="2067.5" y="1041.48" width="79.0" height="28.87" fill="#00c1b5"/>
<rect x="2067.5" y="1013.20" width="79.0" height="28.87" fill="#00c3ad"/>
<rect x="2067.5" y="984.93" width="79.0" height="28.87" fill="#00c5a3"/>
<rect x="2067.5" y="956.66" width="79.0" height="28.87" fill="#00c799"/>
<rect x="2067.5" y="928.38" width="79.0" height="28.87" fill="#00c990"/>
<rect x="2067.5" y="900.11" width="79.0" height="28.87" fill="#00cb86"/>
<rect x="2067.5" y="871.84" width="79.0" height="28.87" fill="#00cd87"/>
<rect x="2067.5" y="843.56" width="79.0" height="28.87" fill="#00cd78"/>
<rect x="2067.5" y="815.29" width="79.0" height="28.87" fill="#00cd69"/>
<rect x="2067.5" y="787.02" width="79.0" height="28.87" fill="#00cd55"/>
<rect x="2067.5" y="758.74" width="79.0" height="28.87" fill="#4bcf4b"/>
<rect x="2067.5" y="730.47" width="79.0" height="28.87" fill="#70cb3e"/>
<rect x="2067.5" y="702.20" width="79.0" height="28.87" fill="#8cc82d"/>
<rect x="2067.5" y="673.92" width="79.0" height="28.87" fill="#aac61e"/>
<rect x="2067.5" y="645.65" width="79.0" height="28.87" fill="#adc314"/>
<rect x="2067.5" y="617.38" width="79.0" height="28.87" fill="#c1c300"/>
<rect x="2067.5" y="589.10" width="79.0" height="28.87" fill="#d4c300"/>
<rect x="2067.5" y="560.83" width="79.0" height="28.87" fill="#e4c000"/>
<rect x="2067.5" y="532.55" width="79.0" height="28.87" fill="#f2bc0e"/>
<rect x="2067.5" y="504.28" width="79.0" height="28.87" fill="#fbb923"/>
<rect x="2067.5" y="476.01" width="79.0" height="28.87" fill="#ffb932"/>
<rect x="2067.5" y="447.73" width="79.0" height="28.87" fill="#ffbd2a"/>
<rect x="2067.5" y="419.46" width="79.0" height="28.87" fill="#ffc41c"/>
<rect x="2067.5" y="391.19" width="79.0" height="28.87" fill="#ffcc0d"/>
<rect x="2067.5" y="362.91" width="79.0" height="28.87" fill="#ffd300"/>
<rect x="2067.5" y="334.64" width="79.0" height="28.87" fill="#fed900"/>
<rect x="2067.5" y="306.37" width="79.0" height="28.87" fill="#fddf00"/>
<rect x="2067.5" y="278.09" width="79.0" height="28.87" fill="#fce500"/>
<rect x="2067.5" y="249.82" width="79.0" height="28.87" fill="#fbea00"/>
<rect x="2067.5" y="221.55" width="79.0" height="28.87" fill="#faf000"/>
<rect x="2067.5" y="193.27" width="79.0" height="28.87" fill="#faf500"/>
<rect x="2067.5" y="165.00" width="79.0" height="28.87" fill="#f9fb00"/>
</g>
<rect x="2067.5" y="165.0" width="79.0" height="1809.5" fill="none" stroke="#262626" stroke-opacity="0.55" stroke-width="2.4"/>
<g stroke="#262626" stroke-opacity="0.7" stroke-width="2.6">
<line x1="2127" y1="1612.6" x2="2146.5" y2="1612.6"/>
<line x1="2127" y1="1250.7" x2="2146.5" y2="1250.7"/>
<line x1="2127" y1="888.8" x2="2146.5" y2="888.8"/>
<line x1="2127" y1="526.9" x2="2146.5" y2="526.9"/>
</g>
<g font-family="'Liberation Sans',sans-serif" font-size="36.2" fill="#404040">
<text x="2159.5" y="1988.5">0.05</text>
<text x="2159.5" y="1626.6">0.1</text>
<text x="2159.5" y="1264.7">0.15</text>
<text x="2159.5" y="902.8">0.2</text>
<text x="2159.5" y="540.9">0.25</text>
<text x="2159.5" y="179.0">0.3</text>
</g>
</svg>
</body></html>
